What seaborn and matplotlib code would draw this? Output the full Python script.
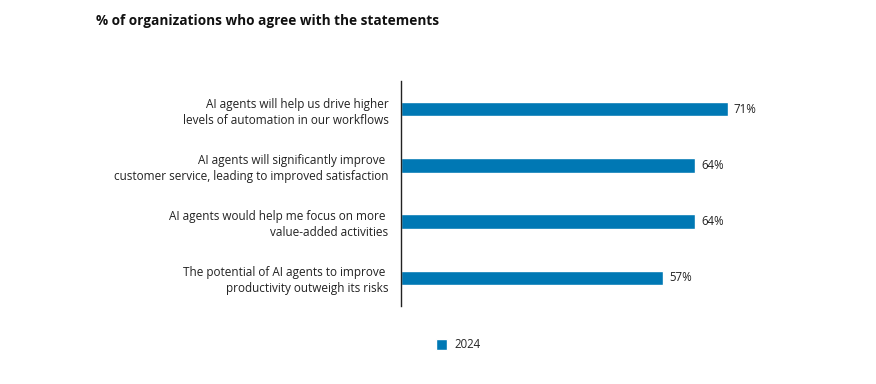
import matplotlib
matplotlib.use('Agg')
import matplotlib.pyplot as plt
import seaborn as sns
import pandas as pd

# data
statements = [
    'AI agents will help us drive higher\nlevels of automation in our workflows',
    'AI agents will significantly improve \ncustomer service, leading to improved satisfaction',
    'AI agents would help me focus on more \nvalue-added activities',
    'The potential of AI agents to improve \nproductivity outweigh its risks',
]
agree_pct = [71, 64, 64, 57]
years = ['2024'] * 4

BAR_COLOR = '#0078B4'

df = pd.DataFrame({'statement': statements, 'pct': agree_pct, 'year': years})

sns.set_style('white')
plt.rcParams['font.family'] = ['Open Sans', 'DejaVu Sans']

fig = plt.figure(figsize=(8.76, 3.84), dpi=100)
ax = fig.add_axes([0.4578, 0.2031, 0.983 - 0.4578, 0.7891 - 0.2031])

sns.barplot(data=df, y='statement', x='pct', hue='year', palette=[BAR_COLOR],
            saturation=1, orient='h', width=0.26, dodge=False, ax=ax, legend=True)

for cont in ax.containers:
    ax.bar_label(cont, labels=[f'{v}%' for v in agree_pct], padding=4,
                 fontsize=8.3, color='#222222')

ax.set_xlim(0, 100)
ax.set_ylim(3.5, -0.5)
ax.set_xlabel('')
ax.set_ylabel('')
ax.set_xticks([])
for s in ['top', 'right', 'bottom']:
    ax.spines[s].set_visible(False)
ax.spines['left'].set_color('#222222')
ax.spines['left'].set_linewidth(1.0)
ax.tick_params(axis='y', length=0, pad=9, labelsize=8.5, labelcolor='#222222')
for lbl in ax.get_yticklabels():
    lbl.set_horizontalalignment('right')
    lbl.set_linespacing(1.3)

handles, labels = ax.get_legend_handles_labels()
ax.get_legend().remove()
fig.legend(handles, labels, loc='center', bbox_to_anchor=(458 / 876, 1 - 345 / 384),
           frameon=False, fontsize=8.3, handlelength=1.0, handleheight=1.0,
           handletextpad=0.6)

fig.text(96 / 876, 1 - 21 / 384, '% of organizations who agree with the statements',
         fontsize=9.8, fontweight='bold', color='#111111', va='center', ha='left')

fig.savefig('out.png', dpi=100)
